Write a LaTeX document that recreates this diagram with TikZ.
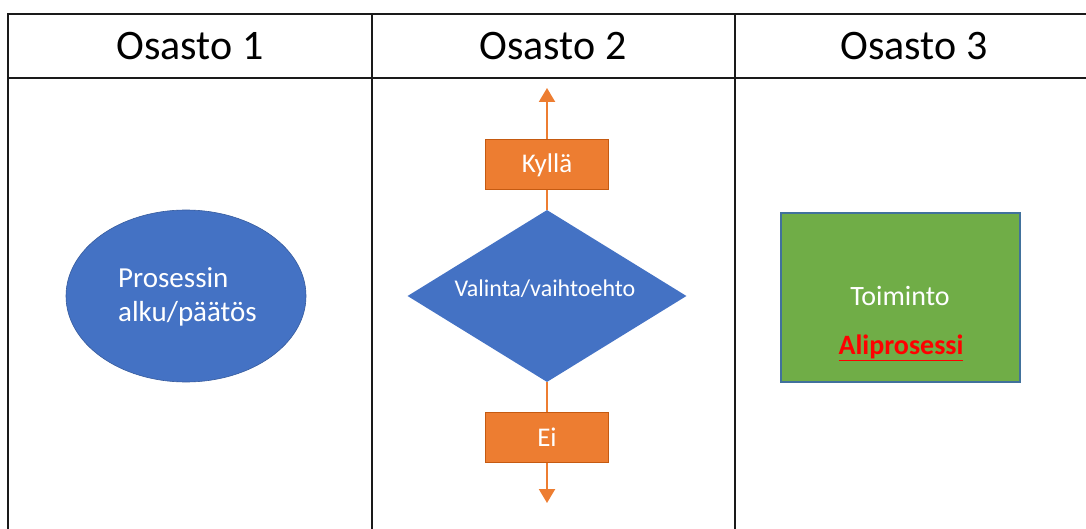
\documentclass[tikz,border=0pt]{standalone}
\usepackage{fontspec}
\setmainfont{Carlito}
\usetikzlibrary{shapes.geometric,arrows.meta}
\definecolor{lineblack}{HTML}{1A1A1A}
\definecolor{flowblue}{HTML}{4472C4}
\definecolor{floworange}{HTML}{ED7D31}
\definecolor{orangeedge}{HTML}{C55A11}
\definecolor{flowgreen}{HTML}{70AD47}
\definecolor{greenedge}{HTML}{41719C}
\tikzset{
  grid/.style={draw=lineblack, line width=1.4pt},
  header/.style={font=\fontsize{42}{46}\selectfont, anchor=base, text=black},
  whitetext/.style={text=white},
  answer/.style={draw=orangeedge, line width=1pt, fill=floworange, minimum width=123pt, minimum height=50pt, inner sep=0pt, text=white, font=\fontsize{27}{30}\selectfont},
  flow/.style={draw=floworange, line width=2.2pt},
  flowarrow/.style={flow, -{Triangle[width=16pt,length=14pt]}}
}
\begin{document}
\begin{tikzpicture}[x=1pt,y=-1pt]
  \useasboundingbox (0,0) rectangle (1086,529);
  % table of the three departments
  \draw[grid] (1086,14) -- (8,14) -- (8,529);
  \draw[grid] (8,78) -- (1086,78);
  \draw[grid] (372,14) -- (372,529);
  \draw[grid] (735,14) -- (735,529);
  \node[header] (h1) at (190,60) {Osasto 1};
  \node[header] (h2) at (553,60) {Osasto 2};
  \node[header] (h3) at (914,60) {Osasto 3};

  % start / end of a process
  \node[ellipse, fill=flowblue, draw=flowblue!80!black, line width=0.6pt,
        minimum width=240pt, minimum height=172pt, inner sep=0pt] (start) at (186,296) {};
  \node[whitetext, align=left, anchor=north west, inner sep=0pt,
        font=\fontsize{29}{34}\selectfont] (starttext) at (118,267) {Prosessin\\alku/päätös};

  % decision
  \node[diamond, fill=flowblue, inner sep=0pt, minimum width=279pt, minimum height=172pt,
        aspect=1.62] (choice) at (547,296) {};
  \node[whitetext, font=\fontsize{24}{28}\selectfont] (choicetext) at (545,289) {Valinta/vaihtoehto};

  \node[answer] (yes) at (547,165) {Kyllä};
  \node[answer] (no) at (547,437) {Ei};
  \coordinate (yesend) at (547,88);
  \coordinate (noend) at (547,503);
  \draw[flow] (choice.north) -- (yes.south);
  \draw[flowarrow] (yes.north) -- (yesend);
  \draw[flow] (choice.south) -- (no.north);
  \draw[flowarrow] (no.south) -- (noend);

  % action with a subprocess link
  \node[draw=greenedge, line width=1.2pt, fill=flowgreen, minimum width=239pt,
        minimum height=169pt, inner sep=0pt] (action) at (900.5,297.5) {};
  \node[whitetext, font=\fontsize{28}{32}\selectfont] (actiontext) at (900,296) {Toiminto};
  \node[text=red, font=\bfseries\fontsize{28}{32}\selectfont, inner sep=0pt] (sub) at (901,348)
        {\underline{Aliprosessi}};
\end{tikzpicture}
\end{document}
